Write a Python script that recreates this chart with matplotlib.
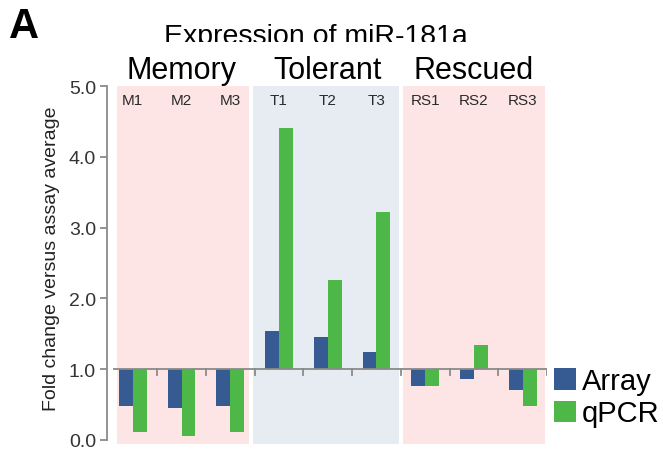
import matplotlib
matplotlib.use("Agg")
import matplotlib.pyplot as plt
from matplotlib.transforms import Bbox
import numpy as np

plt.rcParams['font.family'] = ['Liberation Sans', 'DejaVu Sans']

samples = ["M1", "M2", "M3", "T1", "T2", "T3", "RS1", "RS2", "RS3"]
groups = ["Memory", "Tolerant", "Rescued"]
array_vals = [0.48, 0.45, 0.48, 1.54, 1.45, 1.24, 0.76, 0.86, 0.70]
qpcr_vals = [0.12, 0.05, 0.11, 4.40, 2.26, 3.22, 0.76, 1.34, 0.48]
yticks = [0.0, 1.0, 2.0, 3.0, 4.0, 5.0]
ytick_labels = ["0.0", "1.0", "2.0", "3.0", "4.0", "5.0"]

W, H = 663, 452
fig = plt.figure(figsize=(W / 100, H / 100), dpi=100)

# axes geometry (pixels)
px_left, px_right = 107.0, 547.0
px_y5, px_y0 = 87.0, 441.0
ppu = (px_y0 - px_y5) / 5.0
ybot = -(445 - px_y0) / ppu
ax = fig.add_axes([px_left / W, (H - 445) / H, (px_right - px_left) / W, (445 - px_y5) / H])
slot = (px_right - 108.5) / 9.0
x0 = -(108.5 - px_left) / slot
ax.set_xlim(x0, 9.0)
ax.set_ylim(ybot, 5.0)

BLUE = "#365b93"
GREEN = "#4db848"
PINK = "#fde5e5"
GREYBLUE = "#e7ebf2"
AXC = "#8a8a8a"

# background bands
bands = [(0.17, 2.88, PINK), (2.97, 5.96, GREYBLUE), (6.04, 8.96, PINK)]
for a, b, c in bands:
    ax.axvspan(a, b, ymin=0, ymax=1, color=c, lw=0, zorder=0)

n = len(samples)
centers = np.arange(n) + 0.5
arr = np.array(array_vals)
qp = np.array(qpcr_vals)
bw = 0.285
ax.bar(centers - bw, arr - 1.0, width=bw, bottom=1.0, align='edge', color=BLUE, zorder=2, label="Array")
ax.bar(centers, qp - 1.0, width=bw, bottom=1.0, align='edge', color=GREEN, zorder=2, label="qPCR")

# baseline with ticks
ax.plot([0.1, 9.0], [1.0, 1.0], color=AXC, lw=1.3, zorder=3, solid_capstyle='butt')
for k in range(1, n + 1):
    ax.plot([k, k], [1.0, 1.0 - 6 / ppu], color=AXC, lw=1.3, zorder=3)

# sample labels
for c, s in zip(centers, samples):
    ax.text(c, 4.80, s, ha='center', va='center', fontsize=11, color="#2a2a2a", zorder=4)

# group labels
for i, g in enumerate(groups):
    ax.text(3 * i + 1.5, 1 + (370 - 79) / ppu, g, ha='center', va='baseline', fontsize=22,
            color="black", clip_on=False)

# spines/ticks
for s in ["top", "right", "bottom"]:
    ax.spines[s].set_visible(False)
ax.spines["left"].set_color(AXC)
ax.spines["left"].set_linewidth(1.3)
ax.spines["left"].set_bounds(0, 5)
ax.set_xticks([])
ax.set_yticks(yticks)
ax.set_yticklabels(ytick_labels)
ax.tick_params(axis='y', length=5, width=1.3, color=AXC, labelsize=14, pad=3, labelcolor="#333333")
ax.set_facecolor("white")

# y label
fig.text(52 / W, 1 - 259 / H, "Fold change versus assay average", rotation=90,
         ha='center', va='center', fontsize=14, color="#222222")

# title (clipped at bottom like the reference)
t = fig.text(316 / W, 1 - 44 / H, "Expression of miR-181a", ha='center', va='baseline', fontsize=20.5)
t.set_clip_box(Bbox([[0, H - 43], [W, H]]))
t.set_clip_on(True)

# panel letter
fig.text(9 / W, 1 - 38 / H, "A", ha='left', va='baseline', fontsize=30, fontweight='bold')

# legend
handles, labels = ax.get_legend_handles_labels()
leg = fig.legend(handles, labels, loc='upper left', bbox_to_anchor=(554 / W, 1 - 368 / H),
                 frameon=False, fontsize=21, handlelength=0.75, handleheight=0.75,
                 handletextpad=0.2, labelspacing=0.15, borderpad=0, borderaxespad=0)

fig.savefig("out.png", dpi=100)
